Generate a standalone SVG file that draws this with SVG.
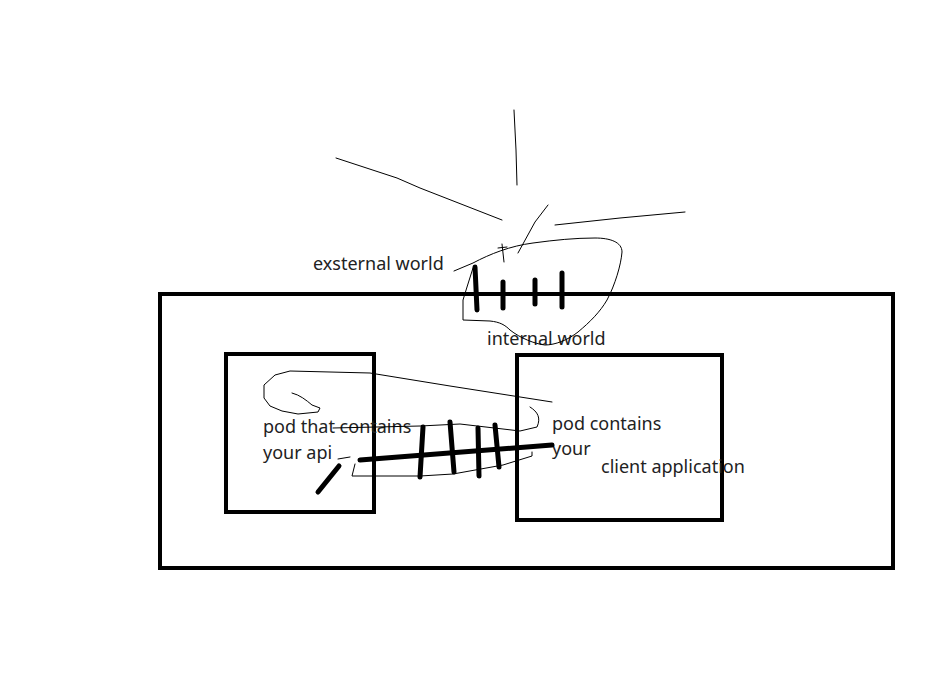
<svg xmlns="http://www.w3.org/2000/svg" width="926" height="680" viewBox="0 0 926 680">
<style>
.box{fill:none;stroke:#000;stroke-width:4}
.thin{fill:none;stroke:#000;stroke-width:1;stroke-linejoin:round;stroke-linecap:round}
.thick{fill:none;stroke:#000;stroke-width:5;stroke-linecap:round}
text{font-family:"Noto Sans","Open Sans",sans-serif;font-size:18px;fill:#222}
</style>
<rect width="926" height="680" fill="#fff"/>
<g id="cluster"><rect class="box" x="160" y="294" width="733" height="274"/></g>
<g id="pod-api"><rect class="box" x="226" y="354" width="148" height="158"/>
<text x="263" y="433">pod that contains</text><text x="263" y="459">your api</text></g>
<g id="pod-client"><rect class="box" x="517" y="355" width="205" height="165"/>
<text x="552" y="430">pod contains</text><text x="552" y="455">your</text><text x="601" y="473">client application</text></g>
<g id="external"><text x="313" y="270">exsternal world</text></g>
<g id="internal"><text x="487" y="345">internal world</text></g>
<g id="connectors">
<path class="thin" d="M514,110 L516,150 L517,185"/>
<path class="thin" d="M336,158 L397,178 L420,188 L502,220"/>
<path class="thin" d="M548,205 L535,222 L518,253"/>
<path class="thin" d="M555,225 L620,218 L685,212"/>
<path class="thin" d="M502,244 L504,262 M498,248 L507,247"/>
<path class="thin" d="M454,271 L473,263 C490,254 510,246 533,243 C555,240 575,238 595,238 C610,238 622,242 622,252 C621,265 615,285 607,300 C600,312 590,322 578,332 C568,340 555,345 545,345 C535,344 520,338 510,330 C505,325 500,322 490,321 L463,320 L463,300 L467,287 L473,268"/>
<path class="thick" d="M475,267 L477,310 M503,282 L503,308 M535,280 L535,304 M562,273 L562,307"/>
<path class="thin" d="M292,393 C300,395 306,400 312,405 L320,408 L318,412 L298,414 L282,411 L270,406 L264,398 L264,385 L275,375 L290,371 L370,373 L450,386 L552,402"/>
<path class="thin" d="M530,407 C538,412 541,418 537,427 L520,431 L460,424 L420,426 L333,428"/>
<path class="thin" d="M338,459 L350,457 M355,464 L352,476 L420,476 L453,474 L503,465 L532,456 L532,452"/>
<path class="thick" d="M360,460 L552,445"/>
<path class="thick" d="M318,492 L339,466"/>
<path class="thick" d="M423,427 L420,477 M450,422 L454,472 M478,428 L479,476 M495,425 L499,467"/>
</g>
</svg>
